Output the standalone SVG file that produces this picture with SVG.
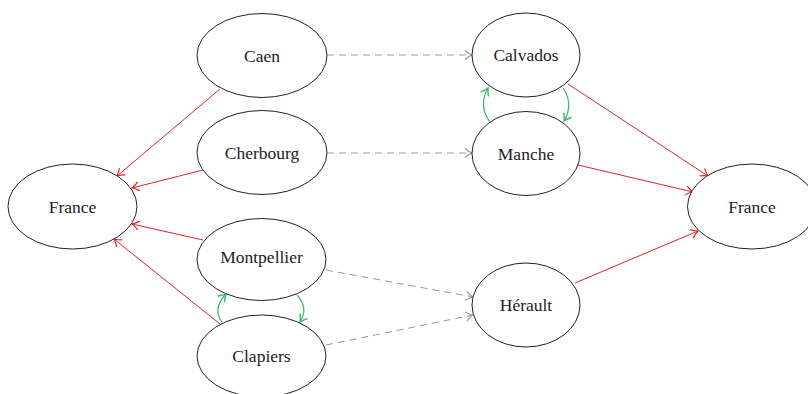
<svg xmlns="http://www.w3.org/2000/svg" width="808" height="394" viewBox="0 0 808 394">
<style>
.n ellipse{fill:#fff;stroke:#222;stroke-width:1}
.n text{font-family:"Liberation Serif","Times New Roman",serif;font-size:17.5px;fill:#222;text-anchor:middle;dominant-baseline:central}
.r{stroke:#e0242c;stroke-width:1;fill:none;marker-end:url(#ar)}
.d{stroke:#999;stroke-width:1;fill:none;stroke-dasharray:7 5;marker-end:url(#ad)}
.g{stroke:#3cb96a;stroke-width:1.2;fill:none;marker-end:url(#ag)}
</style>
<defs>
<marker id="ar" markerUnits="userSpaceOnUse" markerWidth="12" markerHeight="12" refX="0" refY="0" viewBox="-9 -6 11 12" orient="auto"><path d="M-7,-4.5 Q-2.5,-0.9 0,0 Q-2.5,0.9 -7,4.5" fill="none" stroke="#e0242c" stroke-width="1.2"/></marker>
<marker id="ad" markerUnits="userSpaceOnUse" markerWidth="12" markerHeight="12" refX="0" refY="0" viewBox="-9 -6 11 12" orient="auto"><path d="M-7,-4.5 Q-2.5,-0.9 0,0 Q-2.5,0.9 -7,4.5" fill="none" stroke="#999" stroke-width="1.2"/></marker>
<marker id="ag" markerUnits="userSpaceOnUse" markerWidth="12" markerHeight="12" refX="0" refY="0" viewBox="-9 -6 11 12" orient="auto"><path d="M-7,-4.5 Q-2.5,-0.9 0,0 Q-2.5,0.9 -7,4.5" fill="none" stroke="#3cb96a" stroke-width="1.4"/></marker>
</defs>
<g id="connectors">
<path class="r" d="M220,89 L117,176"/>
<path class="r" d="M203,170 L132,188"/>
<path class="r" d="M203,240 L132,224"/>
<path class="r" d="M220,324 L114,239"/>
<path class="r" d="M568,84 L708,176"/>
<path class="r" d="M578,165 L693,192"/>
<path class="r" d="M575,283 L698,231"/>
<path class="d" d="M327,55 L472,55"/>
<path class="d" d="M327,153 L472,153"/>
<path class="d" d="M326,270 L473,297"/>
<path class="d" d="M326,345 L473,315"/>
<path class="g" d="M490,122 Q478,106 488,88"/>
<path class="g" d="M563,88 Q574,104 564,121"/>
<path class="g" d="M222,322 Q212,309 226,294"/>
<path class="g" d="M297,295 Q309,308 300,322"/>
</g>
<g id="france-left" class="n"><ellipse cx="72.5" cy="206.5" rx="64.5" ry="42.5"/><text x="72.5" y="206.5">France</text></g>
<g id="caen" class="n"><ellipse cx="262" cy="55.5" rx="65" ry="42"/><text x="262" y="55.5">Caen</text></g>
<g id="cherbourg" class="n"><ellipse cx="262" cy="152.5" rx="65" ry="42"/><text x="262" y="152.5">Cherbourg</text></g>
<g id="montpellier" class="n"><ellipse cx="261.5" cy="259.5" rx="64.5" ry="41"/><text x="261.5" y="257">Montpellier</text></g>
<g id="clapiers" class="n"><ellipse cx="261.5" cy="356" rx="64.5" ry="41"/><text x="261.5" y="356">Clapiers</text></g>
<g id="calvados" class="n"><ellipse cx="526" cy="55" rx="54" ry="42"/><text x="526" y="55">Calvados</text></g>
<g id="manche" class="n"><ellipse cx="526" cy="153.5" rx="54" ry="42"/><text x="526" y="153.5">Manche</text></g>
<g id="herault" class="n"><ellipse cx="526" cy="305" rx="54" ry="42"/><text x="526" y="305">Hérault</text></g>
<g id="france-right" class="n"><ellipse cx="752" cy="206.5" rx="64.5" ry="42.5"/><text x="752" y="206.5">France</text></g>
</svg>
